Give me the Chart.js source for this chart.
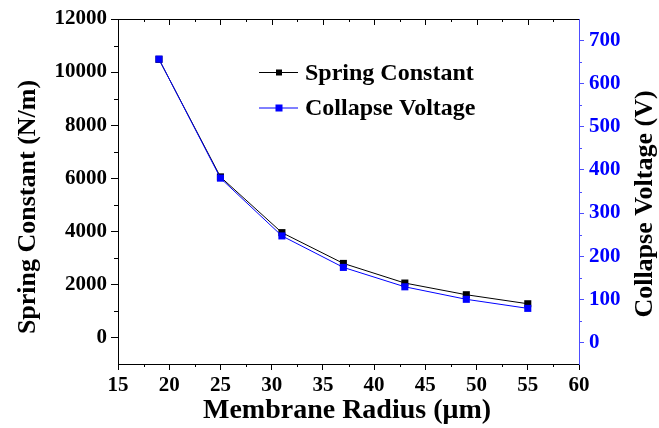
<!DOCTYPE html>
<html>
<head>
<meta charset="utf-8">
<script src="https://cdn.jsdelivr.net/npm/chart.js@4/dist/chart.umd.min.js"></script>
<style>
  html, body { margin: 0; padding: 0; background: #fff; }
</style>
</head>
<body>
<canvas id="springChart" width="659" height="428"></canvas>
<script>
// membrane radius (um) vs spring constant (N/m) and collapse voltage (V)
const radius = [19, 25, 31, 37, 43, 49, 55];
const springConstant = [10480, 6050, 3950, 2790, 2050, 1610, 1270];
const collapseVoltage = [657, 381, 247, 174, 129, 100, 79];

const radiusTicks = [15, 20, 25, 30, 35, 40, 45, 50, 55, 60];
const springTicks = [0, 2000, 4000, 6000, 8000, 10000, 12000];
const voltageTicks = [0, 100, 200, 300, 400, 500, 600, 700];

const serif = "'Liberation Serif', 'Times New Roman', serif";
const tickFont = { family: serif, size: 21, weight: 'bold' };
const BLUE = '#0000ff';
const AXIS_BLUE = '#4d4dff';

function fixedTicks(values) {
  return function (scale) {
    scale.ticks = values.map(v => ({ value: v }));
  };
}
const plain = v => String(v);

// minor ticks, top frame line and the axis titles
const framePlugin = {
  id: 'frame',
  afterDraw(chart) {
    const ctx = chart.ctx;
    const a = chart.chartArea;
    const x = chart.scales.x, y = chart.scales.y, y1 = chart.scales.y1;
    ctx.save();
    ctx.lineWidth = 1;

    // top line with inward ticks
    ctx.strokeStyle = '#000';
    ctx.beginPath();
    ctx.moveTo(a.left, a.top + 0.5);
    ctx.lineTo(a.right, a.top + 0.5);
    for (let v = 17.5; v < 60; v += 2.5) {
      const px = Math.round(x.getPixelForValue(v)) + 0.5;
      const len = (v % 5 === 0) ? 6 : 3;
      ctx.moveTo(px, a.top);
      ctx.lineTo(px, a.top + len);
      // bottom minor ticks
      if (v % 5 !== 0) {
        ctx.moveTo(px, a.bottom);
        ctx.lineTo(px, a.bottom + 3);
      }
    }
    // left minor ticks
    for (let v = 1000; v < 12000; v += 2000) {
      const py = Math.round(y.getPixelForValue(v)) + 0.5;
      ctx.moveTo(a.left, py);
      ctx.lineTo(a.left - 4, py);
    }
    ctx.stroke();

    // right minor ticks
    ctx.strokeStyle = AXIS_BLUE;
    ctx.beginPath();
    for (let v = 50; v < 750; v += 100) {
      const py = Math.round(y1.getPixelForValue(v)) + 0.5;
      ctx.moveTo(a.right, py);
      ctx.lineTo(a.right + 3, py);
    }
    ctx.stroke();

    // axis titles
    ctx.fillStyle = '#000';
    ctx.textAlign = 'center';
    ctx.textBaseline = 'middle';
    ctx.font = 'bold 28px ' + serif;
    ctx.fillText('Membrane Radius (\u03bcm)', 347, 411);

    ctx.font = 'bold 26px ' + serif;
    ctx.save();
    ctx.translate(28, 207);
    ctx.rotate(-Math.PI / 2);
    ctx.fillText('Spring Constant (N/m)', 0, 0);
    ctx.restore();

    ctx.save();
    ctx.translate(645, 204);
    ctx.rotate(-Math.PI / 2);
    ctx.fillText('Collapse Voltage (V)', 0, 0);
    ctx.restore();

    // legend: line sample with square marker, then label
    const rows = [
      { ds: chart.data.datasets[0], y: 72.5, size: 6 },
      { ds: chart.data.datasets[1], y: 108, size: 7 }
    ];
    ctx.font = 'bold 24px ' + serif;
    ctx.textAlign = 'left';
    rows.forEach(r => {
      ctx.strokeStyle = r.ds.borderColor;
      ctx.fillStyle = r.ds.backgroundColor;
      ctx.beginPath();
      ctx.moveTo(259, r.y);
      ctx.lineTo(298, r.y);
      ctx.stroke();
      ctx.fillRect(279 - r.size / 2, r.y - r.size / 2, r.size, r.size);
      ctx.fillStyle = '#000';
      ctx.fillText(r.ds.label, 305, r.y + 1);
    });
    ctx.restore();
  }
};

const ctx = document.getElementById('springChart').getContext('2d');
new Chart(ctx, {
  type: 'line',
  data: {
    datasets: [
      {
        label: 'Spring Constant',
        data: radius.map((r, i) => ({ x: r, y: springConstant[i] })),
        yAxisID: 'y',
        borderColor: '#000',
        backgroundColor: '#000',
        borderWidth: 1,
        pointStyle: 'rect',
        pointRadius: 5,
        pointBorderWidth: 0,
        tension: 0,
        order: 1
      },
      {
        label: 'Collapse Voltage',
        data: radius.map((r, i) => ({ x: r, y: collapseVoltage[i] })),
        yAxisID: 'y1',
        borderColor: BLUE,
        backgroundColor: BLUE,
        borderWidth: 1,
        pointStyle: 'rect',
        pointRadius: 5,
        pointBorderWidth: 0,
        tension: 0,
        order: 0
      }
    ]
  },
  options: {
    responsive: false,
    animation: false,
    layout: { padding: { top: 19, left: 0, right: 0, bottom: 0 } },
    plugins: {
      legend: { display: false },
      tooltip: { enabled: false }
    },
    scales: {
      x: {
        type: 'linear',
        position: 'bottom',
        min: 15,
        max: 60,
        afterBuildTicks: fixedTicks(radiusTicks),
        afterFit: s => { s.height = 64; },
        grid: { drawOnChartArea: false, tickLength: 6, tickColor: '#000' },
        border: { color: '#000', width: 1 },
        ticks: { font: tickFont, color: '#000', padding: 3, autoSkip: false, maxRotation: 0, callback: plain }
      },
      y: {
        type: 'linear',
        position: 'left',
        min: -1000,
        max: 12000,
        afterBuildTicks: fixedTicks(springTicks),
        afterFit: s => { s.width = 118; },
        grid: { drawOnChartArea: false, tickLength: 7, tickColor: '#000' },
        border: { color: '#000', width: 1 },
        ticks: { font: tickFont, color: '#000', padding: 4, autoSkip: false, callback: plain }
      },
      y1: {
        type: 'linear',
        position: 'right',
        min: -50,
        max: 750,
        afterBuildTicks: fixedTicks(voltageTicks),
        afterFit: s => { s.width = 80; },
        grid: { drawOnChartArea: false, tickLength: 5, tickColor: AXIS_BLUE },
        border: { color: AXIS_BLUE, width: 1 },
        ticks: { font: tickFont, color: BLUE, padding: 5, autoSkip: false, callback: plain }
      }
    }
  },
  plugins: [framePlugin]
});
</script>
</body>
</html>
